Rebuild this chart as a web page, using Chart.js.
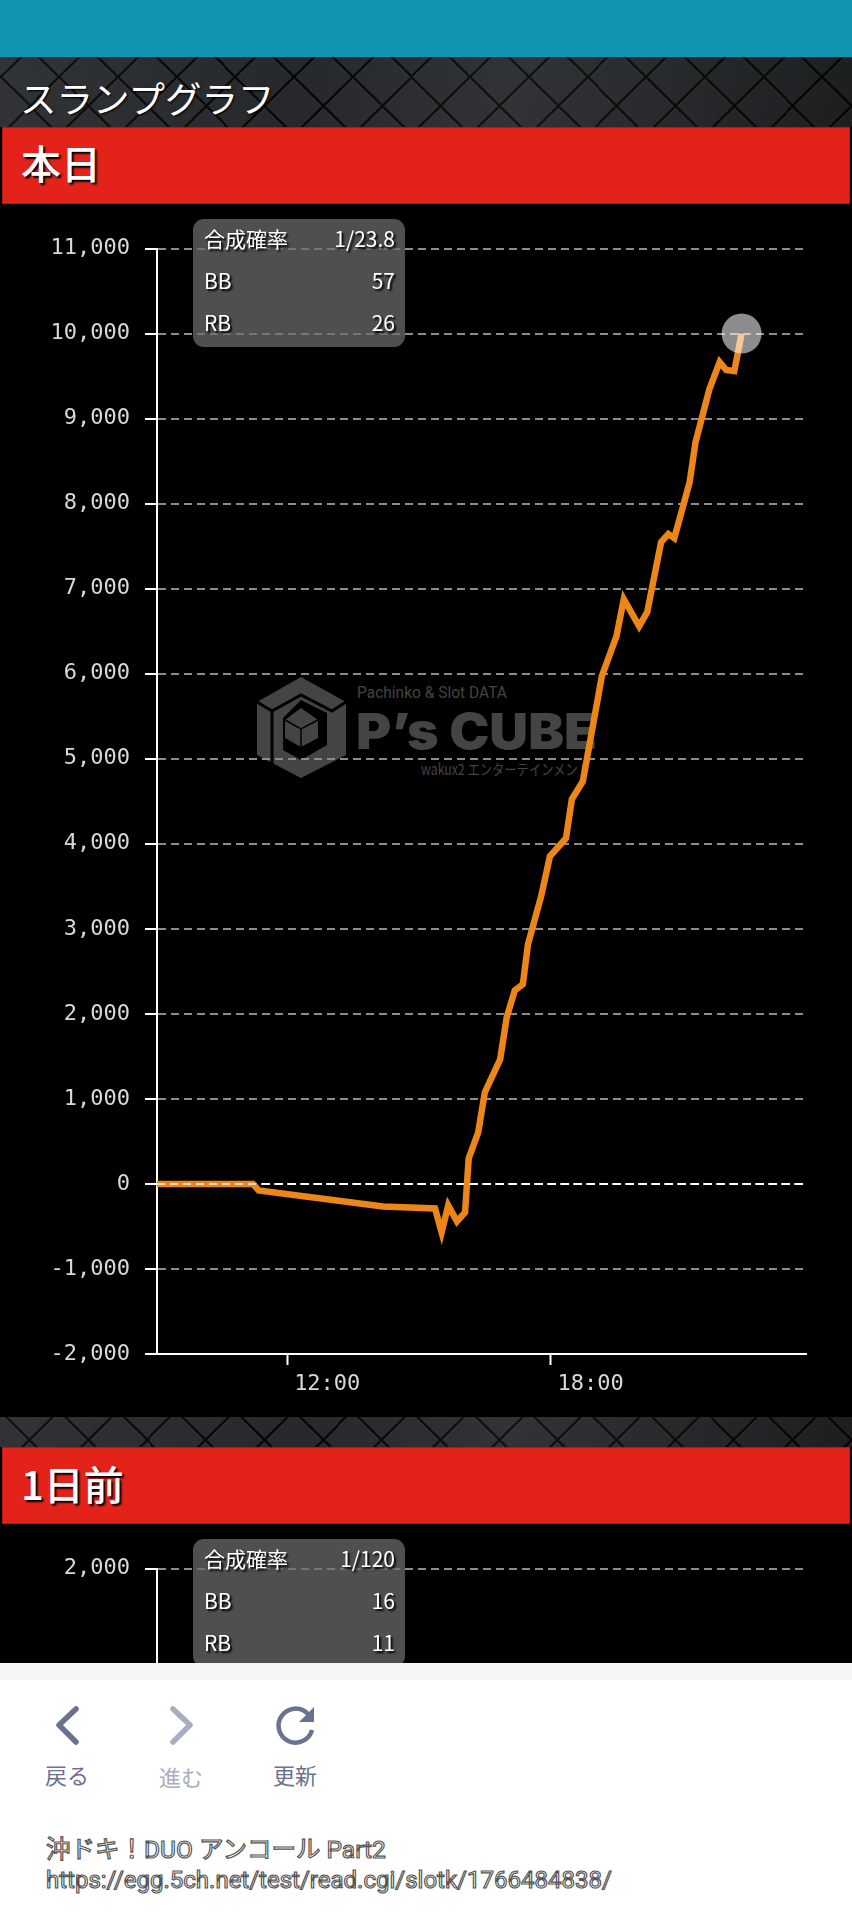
<!DOCTYPE html>
<html lang="ja">
<head>
<meta charset="utf-8">
<title>スランプグラフ</title>
<script src="https://cdn.jsdelivr.net/npm/chart.js@4/dist/chart.umd.js"></script>
<style>
  html, body { margin: 0; padding: 0; background: #000; }
  body { position: relative; width: 852px; height: 1920px; overflow: hidden; font-family: "Noto Sans CJK JP", sans-serif; color: #fff; }
  .abs { position: absolute; }
  #topbar { left: 0; top: 0; width: 852px; height: 57px; background: #1295b2; }
  .texture {
    left: 0; width: 852px;
    background-color: #27282b;
    background-image:
      linear-gradient(100deg, rgba(255,255,255,.05), rgba(255,255,255,0) 35%, rgba(255,255,255,.05) 60%, rgba(0,0,0,.25)),
      url("data:image/svg+xml,%3Csvg xmlns='http://www.w3.org/2000/svg' width='58.7' height='58'%3E%3Cpath d='M0 1.5L29.35 30.5L58.7 1.5M0 59.5L29.35 30.5L58.7 59.5' fill='none' stroke='%23555' stroke-opacity='.35' stroke-width='1.5'/%3E%3Cpath d='M0 0L29.35 29L58.7 0M0 58L29.35 29L58.7 58' fill='none' stroke='%23060606' stroke-width='2.5'/%3E%3C/svg%3E");
  }
  #tex1 { top: 57px; height: 70px; background-position: 0 0, 0.7px 19.7px; }
  #tex2 { top: 1417px; height: 30px; background-position: 0 0, 0.3px -6px; }
  #title { left: 20px; top: 72px; font-size: 36.5px; line-height: 52px; text-shadow: 1px 1px 2px #000; }
  .band {
    left: 2px; width: 848px; height: 77px; box-sizing: border-box;
    background: #e3231a; border: 1px solid #b9160f;
    font-size: 40px; padding-left: 18px; font-weight: 500;
    text-shadow: 2px 2px 2px #000;
  }
  .panel { left: 2px; width: 848px; background: #000; }
  canvas { position: absolute; left: 0; display: block; }
  .summary {
    left: 193px; width: 212px; height: 128px; border-radius: 11px;
    background: rgba(110,110,110,.72); font-size: 21px; line-height: 42px;
    text-shadow: 2px 2px 2px #000;
  }
  .summary div { display: flex; justify-content: space-between; padding: 0 10px 0 11px; height: 42px; position: relative; top: -2px; }
  #bar { left: 0; top: 1663px; width: 852px; height: 17px; background: #f5f5f5; }
  #footer { left: 0; top: 1680px; width: 852px; height: 240px; background: #fff; }
  .nav { font-size: 22px; line-height: 30px; transform: translateX(-50%); color: #6b7191; white-space: nowrap; }
  .outlined { left: 46px; color: #fff; -webkit-text-stroke: 1.2px #555; white-space: nowrap; font-family: Roboto, "Noto Sans CJK JP", sans-serif; }
</style>
</head>
<body>
<div class="abs" id="topbar"></div>
<div class="abs texture" id="tex1"></div>
<div class="abs" id="title">スランプグラフ</div>
<div class="abs band" style="top:127px;line-height:68px">本日</div>
<div class="abs panel" style="top:204px;height:1213px"></div>

<svg class="abs" style="left:0;top:0" width="852" height="1417" viewBox="0 0 852 1417">
  <polygon points="301,677 346,702 346,755 301,778 257,755 257,702" fill="#444"/>
  <polyline points="257,702 272,711 301,695 332,711 346,702" fill="none" stroke="#000" stroke-width="3"/>
  <polyline points="272,711 272,767" fill="none" stroke="#000" stroke-width="3"/>
  <polygon points="301,700 327,713 327,745 301,760 283,750 283,718" fill="#000"/>
  <polygon points="301,708 318,720 318,738 301,747 285,738 285,720" fill="#444"/>
  <polyline points="285,720 301,729 318,720" fill="none" stroke="#000" stroke-width="1.5"/>
  <line x1="301" y1="729" x2="301" y2="747" stroke="#000" stroke-width="1.5"/>
  <text x="357" y="698" fill="#444" font-family="Roboto" font-size="16" textLength="150" lengthAdjust="spacingAndGlyphs">Pachinko &amp; Slot DATA</text>
  <text x="356" y="749" fill="#444" font-family="Inter" font-weight="900" font-size="50" textLength="241" lengthAdjust="spacingAndGlyphs">P’s CUBE</text>
  <text x="421" y="775" fill="#444" font-family="Noto Sans CJK JP" font-size="15" textLength="169" lengthAdjust="spacingAndGlyphs">wakux2 エンターテインメント</text>
</svg>

<canvas id="today_chart" width="852" height="1213" style="top:204px"></canvas>

<div class="abs texture" id="tex2"></div>
<div class="abs band" style="top:1447px;line-height:71px">1日前</div>
<div class="abs panel" style="top:1524px;height:139px"></div>
<canvas id="yesterday_chart" width="852" height="700" style="top:1524px"></canvas>

<div class="abs summary" id="summary_today" style="top:219px"></div>
<div class="abs summary" id="summary_yesterday" style="top:1539px"></div>

<div class="abs" id="bar"></div>
<div class="abs" id="footer"></div>
<svg class="abs" style="left:0;top:1690px" width="852" height="70" viewBox="0 1690 852 70">
  <polyline points="76,1709 59,1725 76,1742" fill="none" stroke="#6b7191" stroke-width="5.5" stroke-linecap="round" stroke-linejoin="round"/>
  <polyline points="173,1709 190,1725 173,1742" fill="none" stroke="#a9adc0" stroke-width="5.5" stroke-linecap="round" stroke-linejoin="round"/>
  <path d="M308 1714 A17 17 0 1 0 312 1730" fill="none" stroke="#6b7191" stroke-width="4.5"/>
  <polygon points="314,1707 314,1722 299,1722" fill="#6b7191"/>
</svg>
<div class="abs nav" style="left:67px;top:1759px">戻る</div>
<div class="abs nav" style="left:181px;top:1761px;color:#a9adc0">進む</div>
<div class="abs nav" style="left:295px;top:1759px">更新</div>
<div class="abs outlined" style="top:1832px;font-size:24.5px;line-height:36px">沖ドキ！DUO アンコール Part2</div>
<div class="abs outlined" style="top:1862px;font-size:24px;line-height:36px">https://egg.5ch.net/test/read.cgi/slotk/1766484838/</div>

<script>
// minutes since midnight
const times = [542, 673, 681, 851, 922, 931, 940, 952, 963, 968, 981, 990, 1011, 1020, 1031, 1042, 1049,
    1067, 1079, 1101, 1109, 1124, 1150, 1170, 1180, 1201, 1212, 1231, 1241, 1249, 1270, 1278, 1297, 1311, 1320, 1331, 1341]
const values = [0, 0, -76, -265, -288, -570, -253, -441, -335, 300, 606, 1076, 1465, 1959, 2276, 2347, 2818,
    3382, 3853, 4065, 4524, 4735, 5971, 6441, 6876, 6558, 6723, 7547, 7641, 7594, 8253, 8723, 9347, 9665, 9571, 9559, 10000]

const x_min = 542
const x_max = 1429
const x_ticks = [720, 1080]
const x_tick_labels = ['12:00', '18:00']

const today_y_min = -2000
const today_y_max = 11000
const yesterday_y_min = -2000
const yesterday_y_max = 2000
const y_step = 1000

const summary_labels = ['合成確率', 'BB', 'RB']
const summary_today = ['1/23.8', '57', '26']
const summary_yesterday = ['1/120', '16', '11']

const ORANGE = '#ec8618'
const tick_font = { family: '"DejaVu Sans Mono", monospace', size: 22 }

function fill_summary(id, vals)
{
    const el = document.getElementById(id)
    el.innerHTML = summary_labels.map((l, i) =>
        '<div><span>' + l + '</span><span>' + vals[i] + '</span></div>').join('')
}

function axes(y_min, y_max)
{
    return {
        x: {
            type: 'linear',
            min: x_min,
            max: x_max,
            afterBuildTicks: (scale) => { scale.ticks = x_ticks.map((v) => ({ value: v })) },
            afterFit: (scale) => { scale.height = 63 },
            border: { color: '#fff', width: 2 },
            grid: { drawOnChartArea: false, tickColor: '#fff', tickWidth: 2, tickLength: 11 },
            ticks: {
                color: '#d8d8d8',
                font: tick_font,
                padding: 6,
                labelOffset: 40,
                autoSkip: false,
                maxRotation: 0,
                callback: (value) => x_tick_labels[x_ticks.indexOf(value)]
            }
        },
        y: {
            min: y_min,
            max: y_max,
            afterFit: (scale) => { scale.width = 157 },
            border: { color: '#fff', width: 2, dash: [8, 5] },
            grid: {
                color: (c) => c.tick.value === 0 ? '#fff' : '#8c8c8c',
                lineWidth: 2,
                tickColor: '#fff',
                tickWidth: 2,
                tickLength: 12,
                tickBorderDash: []
            },
            ticks: {
                color: '#d8d8d8',
                font: tick_font,
                padding: 15,
                stepSize: y_step,
                callback: (value) => value.toLocaleString('en-US')
            }
        }
    }
}

function base_options(y_min, y_max)
{
    return {
        responsive: false,
        animation: false,
        layout: { padding: { top: 44.5, right: 46, bottom: 0, left: 0 } },
        plugins: { legend: { display: false }, tooltip: { enabled: false } },
        scales: axes(y_min, y_max)
    }
}

function load_today_chart()
{
    const ctx = document.getElementById('today_chart').getContext('2d')
    new Chart(ctx, {
        type: 'line',
        data: {
            datasets: [
                {
                    // zero line shows through the orange in the original
                    data: [{ x: x_min, y: 0 }, { x: x_max, y: 0 }],
                    borderColor: 'rgba(255,255,255,.7)',
                    borderWidth: 2,
                    borderDash: [8, 5],
                    pointRadius: 0,
                    order: 0
                },
                {
                    data: times.map((t, i) => ({ x: t, y: values[i] })),
                    borderColor: ORANGE,
                    borderWidth: 6.5,
                    borderJoinStyle: 'miter',
                    tension: 0,
                    pointBorderWidth: 0,
                    pointBackgroundColor: 'rgba(255,255,255,.55)',
                    pointRadius: (c) => c.dataIndex === times.length - 1 ? 20 : 0,
                    order: 1
                }
            ]
        },
        options: base_options(today_y_min, today_y_max)
    })
}

function load_yesterday_chart()
{
    const ctx = document.getElementById('yesterday_chart').getContext('2d')
    new Chart(ctx, {
        type: 'line',
        data: { datasets: [{ data: [] }] },
        options: base_options(yesterday_y_min, yesterday_y_max)
    })
}

function init()
{
    fill_summary('summary_today', summary_today)
    fill_summary('summary_yesterday', summary_yesterday)
    load_today_chart()
    load_yesterday_chart()
}

init()
</script>
</body>
</html>
